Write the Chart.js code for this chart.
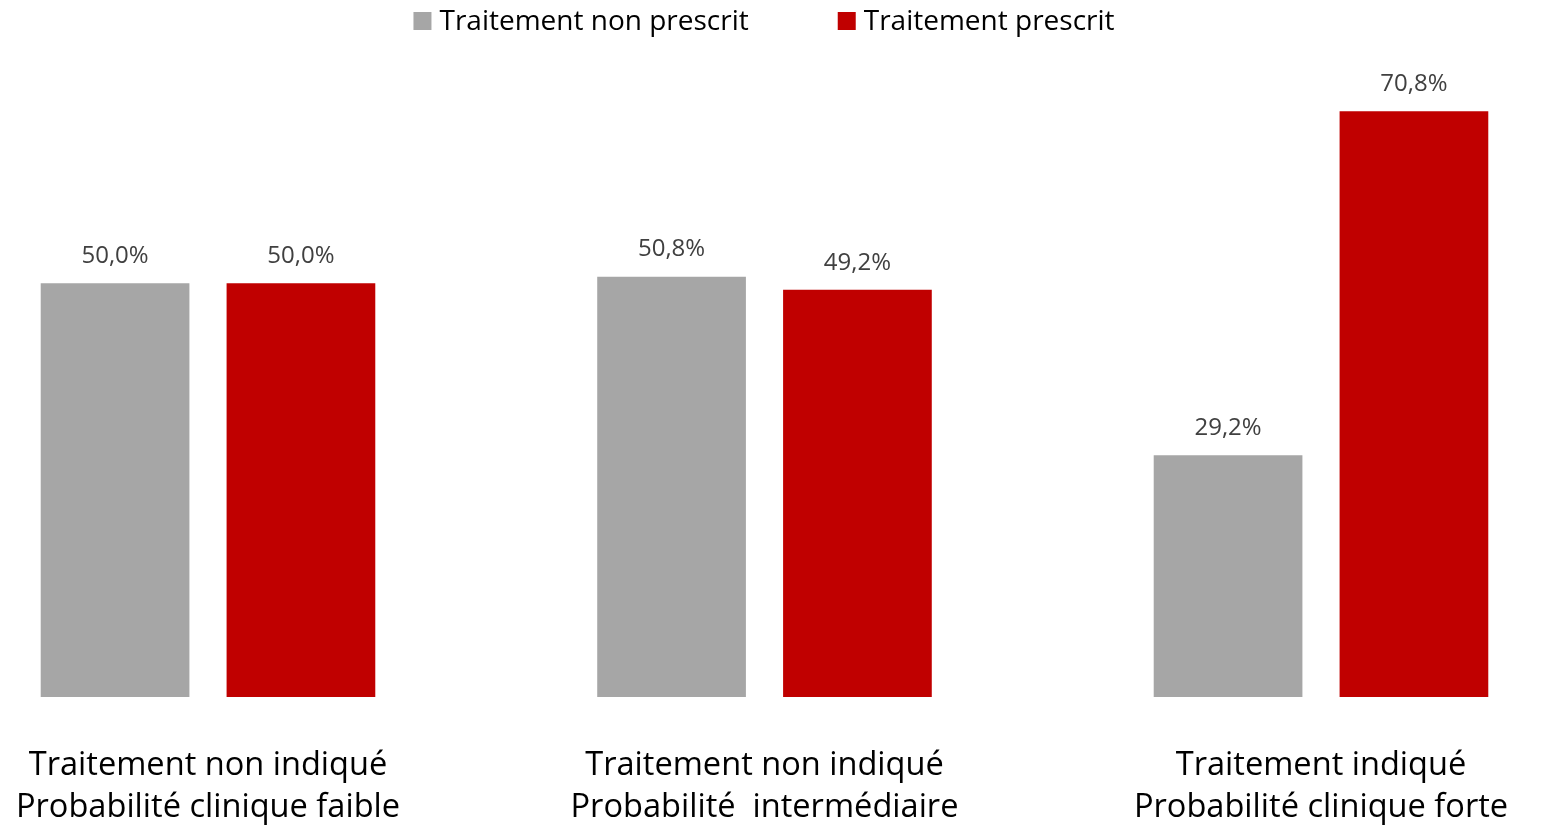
<!DOCTYPE html>
<html>
<head>
<meta charset="utf-8">
<script src="https://cdn.jsdelivr.net/npm/chart.js@4/dist/chart.umd.min.js"></script>
<style>
  html, body { margin: 0; padding: 0; background: #fff; }
  #graphique { display: block; }
</style>
</head>
<body>
<canvas id="graphique" width="1556" height="826"></canvas>
<script>
const categories = [
  ['Traitement non indiqué', 'Probabilité clinique faible'],
  ['Traitement non indiqué', 'Probabilité  intermédiaire'],
  ['Traitement indiqué', 'Probabilité clinique forte']
];
const nonPrescrit = [50.0, 50.8, 29.2];
const prescrit = [50.0, 49.2, 70.8];
const seriesLabels = ['Traitement non prescrit', 'Traitement prescrit'];

const police = "'Open Sans', 'Noto Sans', sans-serif";

// étiquettes de valeur au-dessus des barres
const etiquettes = {
  id: 'etiquettes',
  afterDatasetsDraw(chart) {
    const ctx = chart.ctx;
    ctx.save();
    ctx.font = '24px ' + police;
    ctx.fillStyle = '#404040';
    ctx.textAlign = 'center';
    ctx.textBaseline = 'middle';
    chart.data.datasets.forEach((ds, i) => {
      chart.getDatasetMeta(i).data.forEach((bar, j) => {
        const txt = ds.data[j].toFixed(1).replace('.', ',') + '%';
        ctx.fillText(txt, bar.x, bar.y - 27);
      });
    });
    ctx.restore();
  }
};

// légende en haut, façon Excel (espacement large entre les séries)
const legende = {
  id: 'legende',
  afterDraw(chart) {
    const ctx = chart.ctx;
    const box = 18, gapTxt = 8, gapItem = 89, yc = 21;
    ctx.save();
    ctx.font = '28px ' + police;
    ctx.textBaseline = 'middle';
    ctx.textAlign = 'left';
    const ds = chart.data.datasets;
    const widths = ds.map(d => box + gapTxt + ctx.measureText(d.label).width);
    const total = widths.reduce((a, b) => a + b, 0) + gapItem * (ds.length - 1);
    let x = 764 - total / 2;
    ds.forEach((d, i) => {
      ctx.fillStyle = d.backgroundColor;
      ctx.fillRect(x, yc - box / 2, box, box);
      ctx.fillStyle = '#000';
      ctx.fillText(d.label, x + box + gapTxt, yc + 1);
      x += widths[i] + gapItem;
    });
    ctx.restore();
  }
};

new Chart(document.getElementById('graphique').getContext('2d'), {
  type: 'bar',
  data: {
    labels: categories,
    datasets: [
      { label: seriesLabels[0], data: nonPrescrit, backgroundColor: '#A6A6A6', clip: false },
      { label: seriesLabels[1], data: prescrit, backgroundColor: '#C00000', clip: false }
    ]
  },
  options: {
    responsive: false,
    animation: false,
    devicePixelRatio: 1,
    categoryPercentage: 0.668,
    barPercentage: 0.8,
    layout: { padding: { left: 208, right: 235, top: 35, bottom: 0 } },
    plugins: {
      legend: { display: false },
      tooltip: { enabled: false }
    },
    scales: {
      x: {
        offset: false,
        grid: { display: false, drawTicks: false },
        border: { display: false },
        afterFit(scale) {
          scale.height = 129;
          scale.paddingLeft = 0;
          scale.paddingRight = 0;
        },
        ticks: {
          color: '#000',
          padding: 48,
          maxRotation: 0,
          font: { family: police, size: 32.6, lineHeight: 1.29 }
        }
      },
      y: {
        display: false,
        min: 0,
        max: 80
      }
    }
  },
  plugins: [etiquettes, legende]
});
</script>
</body>
</html>
